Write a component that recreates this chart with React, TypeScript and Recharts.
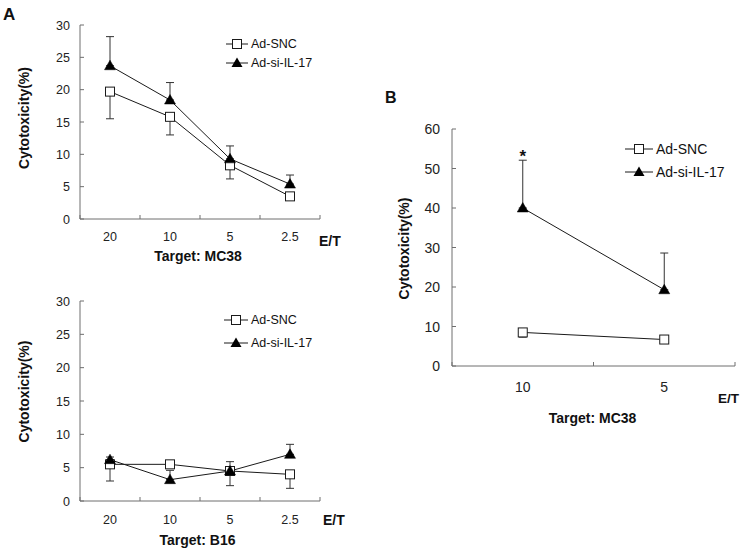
import React from 'react';
import { LineChart, Line, XAxis, YAxis, ErrorBar, Legend, ReferenceDot } from 'recharts';

const FONT = "'Liberation Sans', Arial, Helvetica, sans-serif";
const AXIS = '#6e6e6e';
const INK = '#1a1a1a';

const seriesNames = ['Ad-SNC', 'Ad-si-IL-17'];

// Panel A (top): Target MC38
const etRatiosA = ['20', '10', '5', '2.5'];
const mc38SncA = [19.7, 15.8, 8.3, 3.5];
const mc38SncLowA = [15.5, 13.0, 6.2, 3.3];
const mc38Il17A = [23.7, 18.4, 9.3, 5.4];
const mc38Il17HighA = [28.2, 21.1, 11.3, 6.8];
const yTicksA = [0, 5, 10, 15, 20, 25, 30];

// Panel A (bottom): Target B16
const b16Snc = [5.5, 5.5, 4.5, 4.0];
const b16SncLow = [3.0, 5.2, 2.3, 1.9];
const b16Il17 = [6.2, 3.2, 4.5, 7.0];
const b16Il17High = [6.6, 4.6, 5.9, 8.5];

// Panel B: Target MC38
const etRatiosB = ['10', '5'];
const mc38SncB = [8.5, 6.7];
const mc38SncLowB = [7.3, 6.0];
const mc38Il17B = [40.0, 19.3];
const mc38Il17HighB = [52.1, 28.6];
const significanceB = ['*', ''];
const yTicksB = [0, 10, 20, 30, 40, 50, 60];

type Row = { pos: number; label: string; snc: number; sncErr: number[]; il17: number; il17Err: number[] };

function buildRows(cats: string[], snc: number[], sncLow: number[], il17: number[], il17High: number[]): Row[] {
  return cats.map((c, i) => ({
    pos: i + 0.5,
    label: c,
    snc: snc[i],
    sncErr: [snc[i] - sncLow[i], 0],
    il17: il17[i],
    il17Err: [0, il17High[i] - il17[i]],
  }));
}

const SquareDot = (p: any) => {
  const { cx, cy, index } = p;
  if (cx == null || cy == null) return <g key={`s${index}`} />;
  return <rect key={`s${index}`} x={cx - 4.5} y={cy - 4.5} width={9} height={9} fill="#fff" stroke={INK} strokeWidth={1} />;
};

const TriDot = (p: any) => {
  const { cx, cy, index } = p;
  if (cx == null || cy == null) return <g key={`t${index}`} />;
  return <polygon key={`t${index}`} points={`${cx},${cy - 5.5} ${cx + 5.5},${cy + 4} ${cx - 5.5},${cy + 4}`} fill="#000" stroke="#000" strokeWidth={0.5} />;
};

function makeLegend(fs: number, gap: number, lineLen: number) {
  return () => (
    <div style={{ fontFamily: FONT, fontSize: fs, color: '#111', lineHeight: 1 }}>
      {seriesNames.map((n, i) => (
        <div key={n} style={{ display: 'flex', alignItems: 'center', height: gap, whiteSpace: 'nowrap' }}>
          <svg width={lineLen} height={14} style={{ display: 'block' }}>
            <line x1={0} y1={7} x2={lineLen} y2={7} stroke={INK} strokeWidth={1} />
            {i === 0 ? (
              <rect x={lineLen / 2 - 4.5} y={2.5} width={9} height={9} fill="#fff" stroke={INK} />
            ) : (
              <polygon points={`${lineLen / 2},${1.5} ${lineLen / 2 + 5.5},${11} ${lineLen / 2 - 5.5},${11}`} fill="#000" />
            )}
          </svg>
          <span style={{ marginLeft: 3 }}>{n}</span>
        </div>
      ))}
    </div>
  );
}

type PanelProps = {
  left: number; top: number; width: number; height: number;
  margin: { top: number; right: number; bottom: number; left: number };
  yAxisWidth: number; yMax: number; yTicks: number[];
  cats: string[]; rows: Row[]; fs: number; labelDy: number; yLabelGap: number;
  legendLeft: number; legendTop: number; legendGap: number; legendLine: number;
  sig?: string[]; sigValues?: number[];
};

function Panel(p: PanelProps) {
  const n = p.cats.length;
  const xTicks = Array.from({ length: 2 * n + 1 }, (_, i) => i / 2);
  const XTick = (t: any) => {
    const { x, y, payload } = t;
    const v = payload.value;
    if (Number.isInteger(v)) {
      return <line x1={x} y1={y} x2={x} y2={y - 4} stroke={AXIS} strokeWidth={1} />;
    }
    return (
      <text x={x} y={y + p.labelDy} textAnchor="middle" fontSize={p.fs} fontFamily={FONT} fill="#222">
        {p.cats[Math.floor(v)]}
      </text>
    );
  };
  const YTick = (t: any) => {
    const { x, y, payload } = t;
    return (
      <g>
        <line x1={x} y1={y} x2={x + 4} y2={y} stroke={AXIS} strokeWidth={1} />
        <text x={x - p.yLabelGap} y={y + p.fs * 0.36} textAnchor="end" fontSize={p.fs} fontFamily={FONT} fill="#222">
          {payload.value}
        </text>
      </g>
    );
  };
  return (
    <div style={{ position: 'absolute', left: p.left, top: p.top }}>
      <LineChart width={p.width} height={p.height} data={p.rows} margin={{ ...p.margin, bottom: p.margin.bottom - 1 }}>
        <XAxis
          dataKey="pos"
          type="number"
          domain={[0, n]}
          ticks={xTicks}
          interval={0}
          height={1}
          tickSize={0}
          tickMargin={0}
          tickLine={false}
          axisLine={{ stroke: AXIS, strokeWidth: 1 }}
          tick={(t: any) => <XTick {...t} />}
          allowDataOverflow
        />
        <YAxis
          type="number"
          domain={[0, p.yMax]}
          ticks={p.yTicks}
          interval={0}
          width={p.yAxisWidth}
          tickSize={0}
          tickMargin={0}
          tickLine={false}
          axisLine={{ stroke: AXIS, strokeWidth: 1 }}
          tick={(t: any) => <YTick {...t} />}
          allowDataOverflow
        />
        <Legend
          layout="horizontal"
          verticalAlign="middle"
          align="center"
          content={makeLegend(p.fs, p.legendGap, p.legendLine)}
          wrapperStyle={{ left: p.legendLeft, top: p.legendTop, width: 130, height: p.legendGap * 2 }}
        />
        <Line
          type="linear"
          dataKey="snc"
          name={seriesNames[0]}
          stroke={INK}
          strokeWidth={1}
          dot={SquareDot}
          activeDot={false}
          isAnimationActive={false}
        >
          <ErrorBar dataKey="sncErr" direction="y" width={4} stroke="#333" strokeWidth={1} isAnimationActive={false} />
        </Line>
        <Line
          type="linear"
          dataKey="il17"
          name={seriesNames[1]}
          stroke={INK}
          strokeWidth={1}
          dot={TriDot}
          activeDot={false}
          isAnimationActive={false}
        >
          <ErrorBar dataKey="il17Err" direction="y" width={4} stroke="#333" strokeWidth={1} isAnimationActive={false} />
        </Line>
        {p.sig && p.sigValues
          ? p.sig.map((s, i) =>
              s ? (
                <ReferenceDot
                  key={`sig${i}`}
                  x={i + 0.5}
                  y={p.sigValues![i]}
                  r={1}
                  fill="none"
                  stroke="none"
                  label={(lp: any) => {
                    const vb = lp.viewBox || {};
                    const cx = (vb.x ?? 0) + (vb.width ?? 0) / 2;
                    const cy = (vb.y ?? 0) + (vb.height ?? 0) / 2;
                    return (
                      <text x={cx} y={cy + 2} textAnchor="middle" fontSize={17} fontWeight="bold" fontFamily={FONT} fill="#111">
                        {s}
                      </text>
                    );
                  }}
                />
              ) : null
            )
          : null}
      </LineChart>
    </div>
  );
}

const rowsA = buildRows(etRatiosA, mc38SncA, mc38SncLowA, mc38Il17A, mc38Il17HighA);
const rowsB16 = buildRows(etRatiosA, b16Snc, b16SncLow, b16Il17, b16Il17High);
const rowsB = buildRows(etRatiosB, mc38SncB, mc38SncLowB, mc38Il17B, mc38Il17HighB);

export default function App() {
  const bold = { fontFamily: FONT, fontWeight: 'bold' as const, fill: '#111' };
  return (
    <div style={{ position: 'absolute', left: 0, top: 0, width: 743, height: 552, background: '#fff', overflow: 'hidden' }}>
      <Panel
        left={0} top={0} width={360} height={270}
        margin={{ top: 25, right: 40, bottom: 51, left: 0 }}
        yAxisWidth={80} yMax={30} yTicks={yTicksA}
        cats={etRatiosA} rows={rowsA} fs={12.5} labelDy={21.5} yLabelGap={10}
        legendLeft={226} legendTop={34} legendGap={19.5} legendLine={22}
      />
      <Panel
        left={0} top={280} width={360} height={270}
        margin={{ top: 21, right: 40, bottom: 49, left: 0 }}
        yAxisWidth={80} yMax={30} yTicks={yTicksA}
        cats={etRatiosA} rows={rowsB16} fs={12.5} labelDy={22.5} yLabelGap={10}
        legendLeft={224} legendTop={29} legendGap={22.6} legendLine={24}
      />
      <Panel
        left={360} top={80} width={383} height={350}
        margin={{ top: 49, right: 8, bottom: 64, left: 0 }}
        yAxisWidth={92} yMax={60} yTicks={yTicksB}
        cats={etRatiosB} rows={rowsB} fs={14} labelDy={25.5} yLabelGap={12}
        legendLeft={265} legendTop={58} legendGap={22.4} legendLine={28}
        sig={significanceB} sigValues={mc38Il17HighB}
      />
      <svg width={743} height={552} style={{ position: 'absolute', left: 0, top: 0, pointerEvents: 'none' }}>
        <text x={3} y={20} fontSize={17} {...bold}>A</text>
        <text x={385} y={103} fontSize={16} {...bold}>B</text>
        <text transform="translate(24,118) rotate(-90)" textAnchor="middle" dominantBaseline="central" fontSize={14} {...bold}>Cytotoxicity(%)</text>
        <text transform="translate(24,391.5) rotate(-90)" textAnchor="middle" dominantBaseline="central" fontSize={14} {...bold}>Cytotoxicity(%)</text>
        <text transform="translate(404,248.5) rotate(-90)" textAnchor="middle" dominantBaseline="central" fontSize={14} {...bold}>Cytotoxicity(%)</text>
        <text x={198} y={261} textAnchor="middle" fontSize={14} {...bold}>Target: MC38</text>
        <text x={197.5} y={545} textAnchor="middle" fontSize={14} {...bold}>Target: B16</text>
        <text x={592.5} y={423} textAnchor="middle" fontSize={14} {...bold}>Target: MC38</text>
        <text x={319} y={246} fontSize={14} {...bold}>E/T</text>
        <text x={323} y={525} fontSize={14} {...bold}>E/T</text>
        <text x={718} y={403} fontSize={13.5} {...bold}>E/T</text>
      </svg>
    </div>
  );
}
